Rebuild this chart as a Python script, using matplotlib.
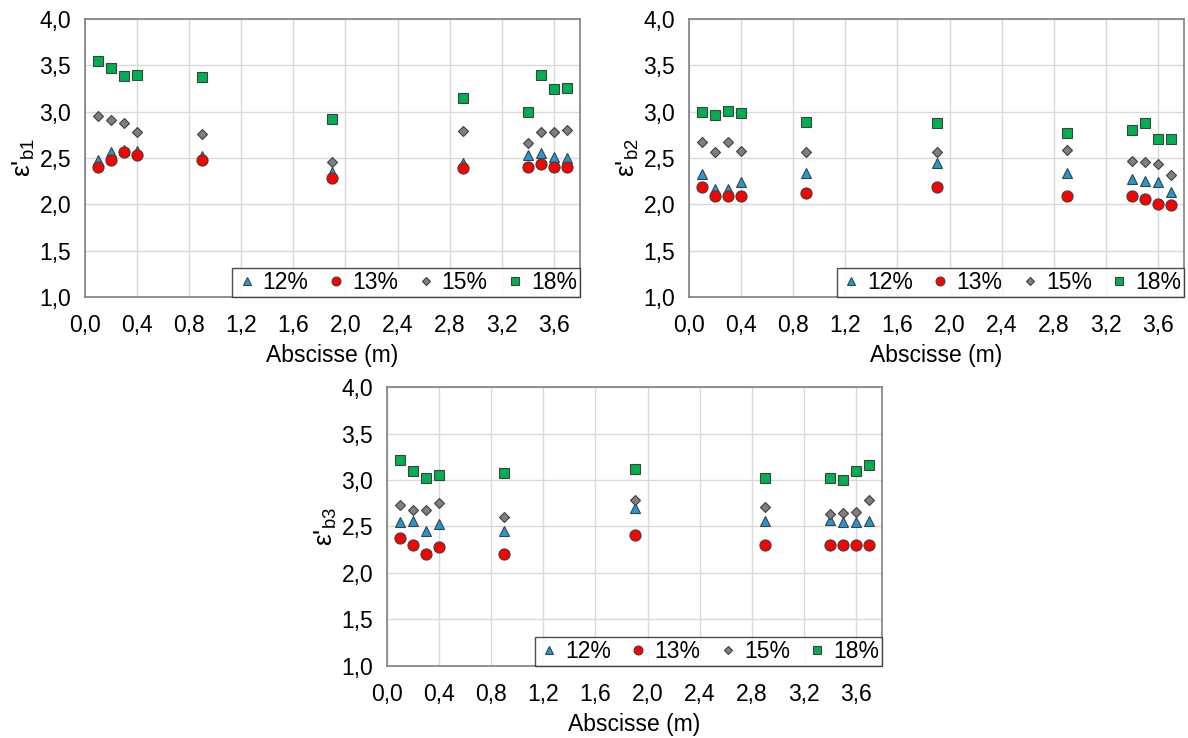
import matplotlib
matplotlib.use("Agg")
import matplotlib.pyplot as plt
import numpy as np

plt.rcParams['font.family'] = ['Liberation Sans', 'DejaVu Sans']
plt.rcParams['mathtext.default'] = 'regular'

# abscissa of the measurement points (m)
abscisse = [0.1, 0.2, 0.3, 0.4, 0.9, 1.9, 2.9, 3.4, 3.5, 3.6, 3.7]
series_names = ["12%", "13%", "15%", "18%"]

# eps'b1
b1_12 = [2.48, 2.56, 2.59, 2.57, 2.52, 2.35, 2.45, 2.53, 2.55, 2.51, 2.50]
b1_13 = [2.40, 2.48, 2.56, 2.53, 2.48, 2.28, 2.39, 2.40, 2.43, 2.40, 2.40]
b1_15 = [2.95, 2.91, 2.88, 2.78, 2.76, 2.46, 2.79, 2.66, 2.78, 2.78, 2.80]
b1_18 = [3.55, 3.47, 3.38, 3.39, 3.37, 2.92, 3.15, 3.00, 3.39, 3.24, 3.26]

# eps'b2
b2_12 = [2.33, 2.17, 2.17, 2.24, 2.34, 2.45, 2.34, 2.27, 2.25, 2.24, 2.13]
b2_13 = [2.19, 2.09, 2.09, 2.09, 2.12, 2.19, 2.09, 2.09, 2.06, 2.00, 1.99]
b2_15 = [2.67, 2.56, 2.67, 2.57, 2.56, 2.56, 2.59, 2.47, 2.46, 2.44, 2.32]
b2_18 = [3.00, 2.96, 3.01, 2.99, 2.89, 2.88, 2.77, 2.80, 2.88, 2.70, 2.71]

# eps'b3
b3_12 = [2.55, 2.56, 2.45, 2.53, 2.45, 2.70, 2.56, 2.57, 2.55, 2.55, 2.56]
b3_13 = [2.38, 2.30, 2.20, 2.28, 2.20, 2.41, 2.30, 2.30, 2.30, 2.30, 2.30]
b3_15 = [2.73, 2.68, 2.68, 2.75, 2.60, 2.79, 2.71, 2.63, 2.65, 2.66, 2.78]
b3_18 = [3.21, 3.10, 3.02, 3.05, 3.07, 3.12, 3.02, 3.02, 3.00, 3.10, 3.16]

styles = [
    dict(marker="^", color="#1E9BD7", ms=6.5),
    dict(marker="o", color="#FF0000", ms=8),
    dict(marker="D", color="#7F7F7F", ms=5),
    dict(marker="s", color="#00B050", ms=7.5),
]


def comma(v, _pos=None):
    return f"{v:.1f}".replace(".", ",")


def draw_panel(ax, series, sub):
    for name, vals, st in zip(series_names, series, styles):
        ax.plot(abscisse, vals, linestyle="none", marker=st["marker"],
                markersize=st["ms"], markerfacecolor=st["color"],
                markeredgecolor="#404040", markeredgewidth=0.8,
                label=name, zorder=3)
    ax.set_xlim(0, 3.8)
    ax.set_ylim(1.0, 4.0)
    ax.set_xticks(np.arange(0, 3.61, 0.4))
    ax.set_yticks(np.arange(1.0, 4.01, 0.5))
    ax.xaxis.set_major_formatter(plt.FuncFormatter(comma))
    ax.yaxis.set_major_formatter(plt.FuncFormatter(comma))
    ax.grid(True, color="#D9D9D9", linewidth=1)
    ax.set_axisbelow(True)
    ax.tick_params(length=0, labelsize=16.5, colors="#000000")
    ax.tick_params(axis="x", pad=12)
    ax.tick_params(axis="y", pad=10)
    for sp in ax.spines.values():
        sp.set_color("#808080")
        sp.set_linewidth(1.2)
    ax.set_xlabel("Abscisse (m)", fontsize=16.5, labelpad=5)
    ax.set_ylabel("ε'$_{" + sub + "}$", fontsize=19, labelpad=2)
    leg = ax.legend(loc="lower right", bbox_to_anchor=(1.0, 0.0),
                    borderaxespad=0, ncol=4, fontsize=16.5, frameon=True,
                    fancybox=False, handletextpad=0.2, columnspacing=0.7,
                    borderpad=0.12, handlelength=1.0, markerscale=0.8)
    leg.get_frame().set_edgecolor("#202020")
    leg.get_frame().set_linewidth(1.0)


fig = plt.figure(figsize=(11.88, 7.38), dpi=100)
ax1 = fig.add_axes([0.0715, 0.5976, 0.4167, 0.3767])
ax2 = fig.add_axes([0.5800, 0.5976, 0.4167, 0.3767])
ax3 = fig.add_axes([0.3258, 0.0976, 0.4167, 0.378])

draw_panel(ax1, [b1_12, b1_13, b1_15, b1_18], "b1")
draw_panel(ax2, [b2_12, b2_13, b2_15, b2_18], "b2")
draw_panel(ax3, [b3_12, b3_13, b3_15, b3_18], "b3")

fig.savefig("out.png", dpi=100)
